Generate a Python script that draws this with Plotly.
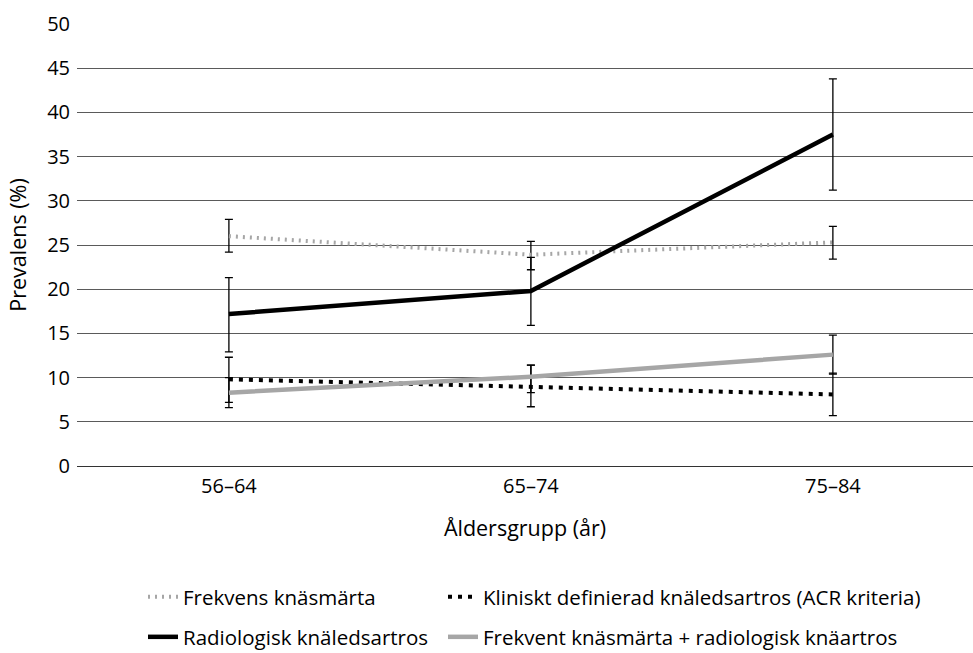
import plotly.graph_objects as go

# Age groups on the x axis
age_groups = ["56–64", "65–74", "75–84"]

# Prevalence (%) per series with upper / lower error extents
frekvens = [26.0, 23.9, 25.3]
frekvens_up = [1.9, 1.5, 1.8]
frekvens_dn = [1.8, 1.7, 1.9]

kliniskt = [9.8, 8.9, 8.1]
kliniskt_up = [2.5, 2.5, 2.4]
kliniskt_dn = [2.6, 2.2, 2.4]

radiologisk = [17.2, 19.8, 37.5]
radiologisk_up = [4.1, 3.8, 6.3]
radiologisk_dn = [4.3, 3.9, 6.3]

frekvent_rad = [8.3, 10.1, 12.6]
frekvent_rad_up = [1.7, 1.3, 2.2]
frekvent_rad_dn = [1.7, 1.8, 2.2]

FONT = "Open Sans"
LIGHT = "#a6a6a6"
W, H = 973, 653

fig = go.Figure()


def add_series(name, y, up, dn, color, width, dash, legend):
    fig.add_trace(go.Scatter(
        x=list(range(len(age_groups))), y=y, name=name, mode="lines",
        line=dict(color=color, width=width, dash=dash), legend=legend,
        error_y=dict(type="data", symmetric=False, array=up, arrayminus=dn,
                     color="black", thickness=1.3, width=4),
    ))


add_series("Frekvens knäsmärta", frekvens, frekvens_up, frekvens_dn,
           LIGHT, 4, "2px,5px", "legend")
add_series("Kliniskt definierad knäledsartros (ACR kriteria)", kliniskt,
           kliniskt_up, kliniskt_dn, "black", 4, "4px,6px", "legend2")
add_series("Radiologisk knäledsartros", radiologisk, radiologisk_up,
           radiologisk_dn, "black", 4.5, "solid", "legend3")
add_series("Frekvent knäsmärta + radiologisk knäartros", frekvent_rad,
           frekvent_rad_up, frekvent_rad_dn, LIGHT, 4.5, "solid", "legend4")


def legend_at(px, py):
    # one legend box per entry, placed in container pixels (2 x 2 grid)
    return dict(orientation="h", xref="container", yref="container",
                x=px / W, y=1 - py / H, xanchor="left", yanchor="middle",
                itemwidth=30, font=dict(size=20.5), bgcolor="rgba(0,0,0,0)")


fig.update_layout(
    width=W, height=H,
    margin=dict(l=77, r=0, t=24, b=187, autoexpand=False),
    paper_bgcolor="white", plot_bgcolor="white",
    font=dict(family=FONT, size=20, color="black"),
    showlegend=True,
    legend=legend_at(143, 597),
    legend2=legend_at(443, 597),
    legend3=legend_at(143, 637),
    legend4=legend_at(443, 637),
)
fig.update_xaxes(
    tickmode="array", tickvals=list(range(len(age_groups))),
    ticktext=age_groups, range=[-0.503, 2.464],
    showgrid=False, zeroline=False, showline=False, ticks="",
    tickfont=dict(size=20), automargin=False, ticklabelstandoff=6,
    title=dict(text="Åldersgrupp (år)", font=dict(size=21.5), standoff=22),
)
fig.update_yaxes(
    range=[0, 50], dtick=5, showgrid=True, gridcolor="#5a5a5a", gridwidth=1,
    zeroline=True, zerolinecolor="#333333", zerolinewidth=1.2,
    ticks="", ticklabelstandoff=6, tickfont=dict(size=20), automargin=False,
    title=dict(text="Prevalens (%)", font=dict(size=21.5), standoff=14),
)

fig.write_html("out.html")
